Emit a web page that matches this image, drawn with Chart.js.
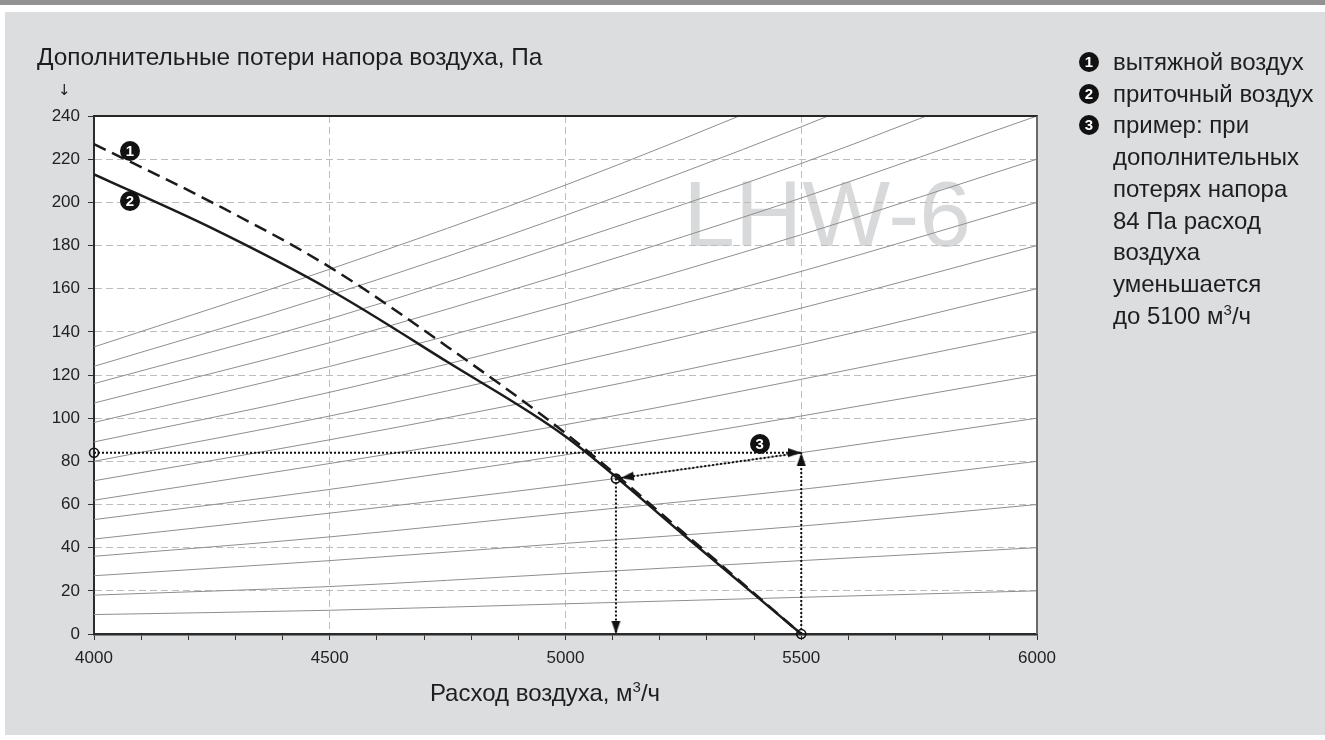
<!DOCTYPE html>
<html lang="ru">
<head>
<meta charset="UTF-8" />
<title>LHW-6 — дополнительные потери напора</title>
<script src="https://cdn.jsdelivr.net/npm/chart.js"></script>
<style>
    * { box-sizing: border-box; margin: 0; padding: 0; }
    body {
        width: 1325px; height: 740px;
        position: relative; overflow: hidden;
        background: #fff;
        font-family: 'Liberation Sans', Arial, Helvetica, sans-serif;
        color: #1e1e1e;
    }

    /* рамка страницы */
    .topbar { position: absolute; left: 0; top: 0; width: 100%; height: 5px; background: #929292; }
    .panel { position: absolute; left: 5px; top: 12px; right: 0; height: 723px; background: #dcdddf; }

    /* поле графика */
    #plotBg { position: absolute; background: #fff; z-index: 1; }
    #watermark {
        position: absolute; right: 66px; top: 52px;
        font-size: 93px; line-height: 93px; color: #d8d9db; white-space: nowrap;
    }
    #chart { position: absolute; left: 0; top: 0; z-index: 2; }
    #frame {
        position: absolute; z-index: 3; pointer-events: none;
        border-top: 2px solid #262626; border-right: 2px solid #6a6a6a;
    }

    /* подписи осей */
    .title-y { position: absolute; left: 37px; top: 45px; font-size: 24.4px; line-height: 24px; white-space: nowrap; z-index: 4; }
    .arrow-y { position: absolute; left: 58px; top: 82px; font-family: 'DejaVu Sans', sans-serif; font-size: 15px; line-height: 16px; z-index: 4; }
    .title-x { position: absolute; left: 0; width: 1090px; top: 681px; text-align: center; font-size: 24px; line-height: 24px; z-index: 4; }
    sup { font-size: 15px; line-height: 0; vertical-align: 9px; }

    /* номера-кружки */
    .badge {
        position: absolute; width: 20px; height: 20px; border-radius: 50%;
        background: #111; color: #fff; font-weight: bold; font-size: 15px;
        line-height: 20px; text-align: center; z-index: 4;
    }

    /* легенда справа */
    .legend { position: absolute; left: 1113px; top: 46px; font-size: 24px; line-height: 31.7px; z-index: 4; white-space: nowrap; }
    .legend .item { position: relative; }
    .legend .badge { left: -34px; top: 6px; }
</style>
</head>
<body>

    <div class="topbar"></div>
    <div class="panel"></div>

    <div id="plotBg"><div id="watermark">LHW-6</div></div>
    <canvas id="chart" width="1325" height="740"></canvas>
    <div id="frame"></div>

    <div class="title-y">Дополнительные потери напора воздуха, Па</div>
    <div class="arrow-y">↓</div>
    <div class="title-x">Расход воздуха, м<sup>3</sup>/ч</div>

    <div class="legend">
        <div class="item"><span class="badge">1</span>вытяжной воздух</div>
        <div class="item"><span class="badge">2</span>приточный воздух</div>
        <div class="item"><span class="badge">3</span>пример: при<br>дополнительных<br>потерях напора<br>84 Па расход<br>воздуха<br>уменьшается<br>до 5100 м<sup>3</sup>/ч</div>
    </div>

<script>
    // ---- оси ----
    const flowMin = 4000, flowMax = 6000, flowStep = 100, flowLabelStep = 500;
    const paMin = 0, paMax = 240, paStep = 20;

    // ---- характеристики вентилятора LHW-6 ----
    const fanFlow   = [4000, 4250, 4500, 4750, 5000, 5250, 5500];
    const exhaustPa = [227, 200, 170, 133, 93, 47, 0];        // 1 - вытяжной воздух
    const supplyPa  = [213, 188, 159.5, 126, 91.5, 46, 0];    // 2 - приточный воздух

    // ---- характеристики сети (тонкие серые линии) ----
    const sysFlow   = [4000, 4500, 5000, 5500, 6000];
    const sysAt4000 = [9, 18, 27, 36, 44, 53, 62, 71, 80, 89, 98, 107, 116, 124, 133];
    const sysAt4500 = [11, 22, 34, 45, 56, 67, 79, 90, 101, 112, 124, 135, 146, 157, 169];
    const sysAt5000 = [14, 28, 42, 56, 69, 83, 97, 111, 125, 139, 153, 167, 181, 194, 208];
    const sysAt5500 = [17, 34, 50, 67, 84, 101, 118, 134, 151, 168, 185, 202, 218, 235, 252];
    const sysAt6000 = [20, 40, 60, 80, 100, 120, 140, 160, 180, 200, 220, 240, 260, 280, 300];

    // ---- пример 3 ----
    const exNominalFlow = 5500;  // расход без доп. потерь
    const exLoss = 84;           // доп. потери напора, Па
    const exResultFlow = 5107;   // расход при доп. потерях (~5100)
    const exResultPa = 72;

    // ---- номера на графике ----
    const badgeText = ['1', '2', '3'];
    const badgeFlow = [4076, 4076, 5412];
    const badgePa   = [224, 200.5, 88];

    const fontFamily = "'Liberation Sans', Arial, Helvetica, sans-serif";

    // пунктирные отрезки примера: [от, до], стрелка на конце "до"
    const exSegments = [
        [[flowMin, exLoss], [exNominalFlow, exLoss]],
        [[exNominalFlow, 0], [exNominalFlow, exLoss]],
        [[exNominalFlow, exLoss], [exResultFlow, exResultPa]],
        [[exResultFlow, exResultPa], [exResultFlow, 0]]
    ];
    const exCircles = [[flowMin, exLoss], [exResultFlow, exResultPa], [exNominalFlow, 0]];

    // наконечник стрелки (смотрит вверх, острие в центре или чуть раньше)
    function makeArrow(len, halfW, gap) {
        const c = document.createElement('canvas');
        c.width = halfW * 2 + 2;
        c.height = (len + gap) * 2;
        const g = c.getContext('2d');
        const cx = c.width / 2, tip = c.height / 2 + gap;
        g.fillStyle = '#111';
        g.beginPath();
        g.moveTo(cx, tip);
        g.lineTo(cx + halfW, tip + len);
        g.lineTo(cx - halfW, tip + len);
        g.closePath();
        g.fill();
        return c;
    }
    const arrow = makeArrow(13, 4.5, 0);
    const arrowGap = makeArrow(13, 4.5, 5);

    const datasets = [];

    const sysCols = [sysAt4000, sysAt4500, sysAt5000, sysAt5500, sysAt6000];
    sysAt4000.forEach((_, i) => {
        datasets.push({
            data: sysFlow.map((q, j) => ({ x: q, y: sysCols[j][i] })),
            showLine: true,
            borderColor: '#8e8e8e',
            borderWidth: 1,
            pointRadius: 0,
            cubicInterpolationMode: 'monotone',
            order: 5
        });
    });

    datasets.push({
        data: fanFlow.map((q, i) => ({ x: q, y: exhaustPa[i] })),
        showLine: true,
        borderColor: '#1b1b1b',
        borderWidth: 2.5,
        borderDash: [13, 7],
        pointRadius: 0,
        cubicInterpolationMode: 'monotone',
        order: 3
    });
    datasets.push({
        data: fanFlow.map((q, i) => ({ x: q, y: supplyPa[i] })),
        showLine: true,
        borderColor: '#1b1b1b',
        borderWidth: 2.5,
        pointRadius: 0,
        cubicInterpolationMode: 'monotone',
        order: 3
    });

    exSegments.forEach(seg => {
        datasets.push({
            data: seg.map(([x, y]) => ({ x, y })),
            showLine: true,
            borderColor: '#111',
            borderWidth: 2,
            borderDash: [2, 2],
            pointRadius: 0,
            clip: false,
            order: 2
        });
    });

    // стрелки
    datasets.push({
        data: exSegments.map(s => ({ x: s[1][0], y: s[1][1] })),
        pointStyle: c => (c.dataIndex === 2 ? arrowGap : arrow),
        rotation: c => {
            if (c.dataIndex === undefined) return 0;
            const s = exSegments[c.dataIndex];
            const xs = c.chart.scales.x, ys = c.chart.scales.y;
            const dx = xs.getPixelForValue(s[1][0]) - xs.getPixelForValue(s[0][0]);
            const dy = ys.getPixelForValue(s[1][1]) - ys.getPixelForValue(s[0][1]);
            return Math.atan2(dx, -dy) * 180 / Math.PI;
        },
        pointRadius: 6,
        clip: false,
        order: 1
    });

    // кружки
    datasets.push({
        data: exCircles.map(([x, y]) => ({ x, y })),
        pointStyle: 'circle',
        pointRadius: 4.5,
        pointBorderWidth: 1.6,
        pointBorderColor: '#111',
        pointBackgroundColor: 'rgba(255,255,255,0)',
        clip: false,
        order: 0
    });

    const plotBg = document.getElementById('plotBg');
    const frame = document.getElementById('frame');
    const badgeEls = badgeText.map(t => {
        const d = document.createElement('div');
        d.className = 'badge';
        d.textContent = t;
        document.body.appendChild(d);
        return d;
    });

    // раскладка html-слоёв по области графика
    const overlay = {
        id: 'overlay',
        afterDraw(chart) {
            const a = chart.chartArea;
            const xs = chart.scales.x, ys = chart.scales.y;
            Object.assign(plotBg.style, {
                left: a.left + 'px', top: a.top + 'px',
                width: (a.right - a.left) + 'px', height: (a.bottom - a.top) + 'px'
            });
            Object.assign(frame.style, {
                left: a.left + 'px', top: (a.top - 1) + 'px',
                width: (a.right - a.left + 1) + 'px', height: (a.bottom - a.top + 1) + 'px'
            });
            badgeEls.forEach((el, i) => {
                el.style.left = (xs.getPixelForValue(badgeFlow[i]) - 10) + 'px';
                el.style.top = (ys.getPixelForValue(badgePa[i]) - 10) + 'px';
            });
        }
    };

    const gridGray = '#bdbdbd';
    const none = 'rgba(0,0,0,0)';

    new Chart(document.getElementById('chart'), {
        type: 'scatter',
        data: { datasets },
        plugins: [overlay],
        options: {
            responsive: false,
            animation: false,
            events: [],
            layout: { padding: { left: 0, top: 116, right: 288, bottom: 46 } },
            plugins: { legend: { display: false }, tooltip: { enabled: false } },
            scales: {
                x: {
                    type: 'linear',
                    min: flowMin, max: flowMax,
                    afterFit: s => { s.height = 60; },
                    ticks: {
                        stepSize: flowStep,
                        autoSkip: false,
                        maxRotation: 0,
                        color: '#222',
                        padding: 8,
                        font: { family: fontFamily, size: 17 },
                        callback: v => (v % flowLabelStep === 0 ? String(v) : '')
                    },
                    grid: {
                        color: c => (c.tick && c.tick.value % flowLabelStep === 0 &&
                                     c.tick.value > flowMin && c.tick.value < flowMax) ? gridGray : none,
                        lineWidth: 1,
                        tickColor: '#333',
                        tickLength: 6,
                        tickWidth: 1,
                        tickBorderDash: []
                    },
                    border: { color: '#2b2b2b', width: 2.5, dash: [7, 4] }
                },
                y: {
                    type: 'linear',
                    min: paMin, max: paMax,
                    afterFit: s => { s.width = 94; },
                    ticks: {
                        stepSize: paStep,
                        color: '#222',
                        padding: 8,
                        font: { family: fontFamily, size: 17 }
                    },
                    grid: {
                        color: c => (c.tick && c.tick.value > paMin && c.tick.value < paMax) ? gridGray : none,
                        lineWidth: 1,
                        tickColor: '#333',
                        tickLength: 6,
                        tickWidth: 1,
                        tickBorderDash: []
                    },
                    border: { color: '#2b2b2b', width: 2, dash: [7, 4] }
                }
            }
        }
    });
</script>
</body>
</html>
